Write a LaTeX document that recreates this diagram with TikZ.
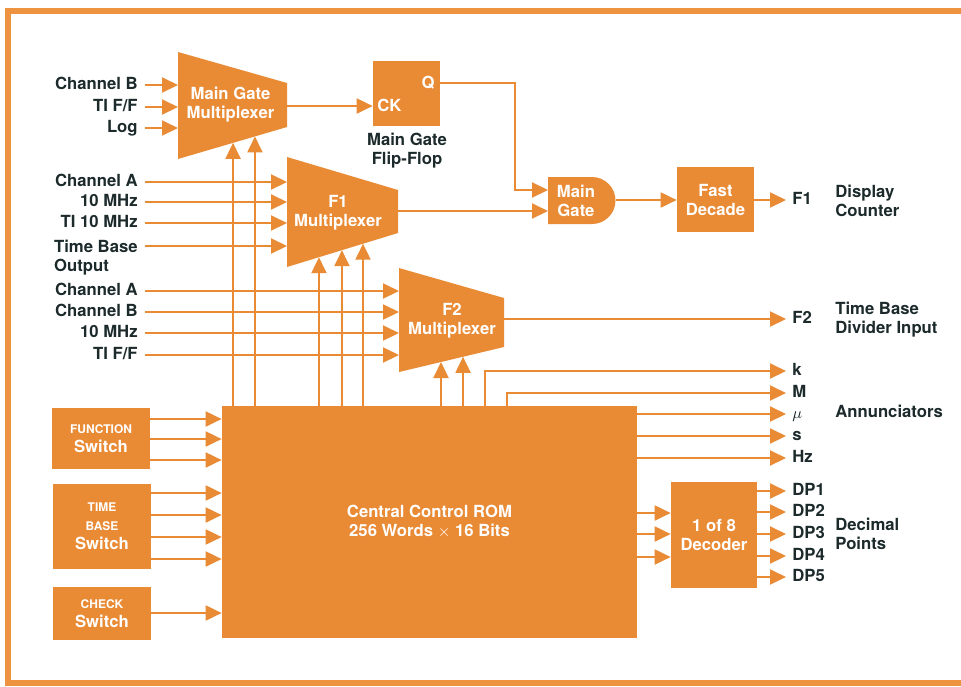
\documentclass[tikz,border=0pt]{standalone}
\usepackage{fontspec}
\setmainfont{TeX Gyre Heros}
\usetikzlibrary{arrows.meta,calc}
\definecolor{hpor}{HTML}{E98A35}
\definecolor{hpframe}{HTML}{EE9340}
\definecolor{hpink}{HTML}{1C2A2B}
\tikzset{
  blk/.style={fill=hpor, text=white, align=center, inner sep=0pt},
  wt/.style={text=white, align=center, inner sep=0pt},
  inl/.style={anchor=mid east, inner xsep=1.4mm, inner ysep=0pt, text=hpink},
  outl/.style={anchor=mid west, inner xsep=1.2mm, inner ysep=0pt, text=hpink},
  note/.style={anchor=west, align=left, inner sep=0pt, text=hpink},
  arr/.style={-{Triangle[length=3.2mm,width=3mm]}, line width=0.4mm, color=hpor},
  frm/.style={draw=hpframe, line width=1.2mm},
}
\newcommand{\caplbl}[1]{{\fontsize{6.8}{8}\selectfont #1}}

\begin{document}
\begin{tikzpicture}[x=0.2mm, y=-0.2mm, font=\fontsize{9.5}{10.8}\selectfont\bfseries]
  \useasboundingbox (0,0) rectangle (961,686);
  \begin{scope}
    \clip (0,0) rectangle (961,686);
    \draw[frm] (990,11) -- (8,11) -- (8,683) -- (990,683);
  \end{scope}

  % multiplexers
  \coordinate (mgtl) at (178,52);  \coordinate (mgtr) at (287,83);
  \coordinate (mgbr) at (287,127); \coordinate (mgbl) at (178,159);
  \coordinate (f1tl) at (287,157); \coordinate (f1tr) at (398,190);
  \coordinate (f1br) at (398,233); \coordinate (f1bl) at (287,267);
  \coordinate (f2tl) at (399,268); \coordinate (f2tr) at (504,298);
  \coordinate (f2br) at (504,347); \coordinate (f2bl) at (399,372);
  \fill[hpor] (mgtl) -- (mgtr) -- (mgbr) -- (mgbl) -- cycle;
  \fill[hpor] (f1tl) -- (f1tr) -- (f1br) -- (f1bl) -- cycle;
  \fill[hpor] (f2tl) -- (f2tr) -- (f2br) -- (f2bl) -- cycle;
  \node[wt] (mgmux) at (230.5,105) {Main Gate\\Multiplexer};
  \node[wt] (f1mux) at (338,213) {F1\\Multiplexer};
  \node[wt] (f2mux) at (452,321) {F2\\Multiplexer};

  % flip-flop and gate
  \node[blk, minimum width=13.4mm, minimum height=13mm] (ff) at (406.5,93.5) {};
  \node[wt, anchor=west] (ck) at (377,105) {CK};
  \node[wt] (qq) at (428,83) {Q};
  \node[note, anchor=north, align=center] (fflab) at (407,133) {Main Gate\\Flip-Flop};
  \fill[hpor] (548,177) -- (592,177) arc[start angle=-90, end angle=90, radius=23.5] -- (548,224) -- cycle;
  \node[wt] (gate) at (576,201) {Main\\Gate};
  \coordinate (gin1) at (548,190); \coordinate (gin2) at (548,211);
  \coordinate (gout) at (615.5,200);
  \node[blk, minimum width=15.4mm, minimum height=13mm] (fd) at (715.5,199.5) {Fast\\Decade};

  % ROM, decoder, switches
  \node[blk, minimum width=83mm, minimum height=46.4mm] (rom) at (429.5,522) {Central Control ROM\\256 Words $\times$ 16 Bits};
  \node[blk, minimum width=17.2mm, minimum height=21.2mm] (dec) at (714,535) {1 of 8\\Decoder};
  \node[blk, minimum width=19.6mm, minimum height=12.2mm] (fsw) at (101,438.5) {\caplbl{FUNCTION}\\Switch};
  \node[blk, minimum width=19.6mm, minimum height=17mm] (tbsw) at (102,526.5) {\caplbl{TIME}\\\caplbl{BASE}\\Switch};
  \node[blk, minimum width=19.6mm, minimum height=10.6mm] (csw) at (102,613.5) {\caplbl{CHECK}\\Switch};

  % inputs
  \foreach \nm/\yy/\txt in {mgi1/85/{Channel B}, mgi2/107/{TI F/F}, mgi3/128/Log} {
    \node[inl] (\nm) at (145,\yy) {\txt};
    \draw[arr] (\nm.mid east) -- (\nm.mid east -| mgtl);
  }
  \foreach \nm/\yy/\txt in {f1i1/182/{Channel A}, f1i2/202/{10 MHz}, f1i3/223/{TI 10 MHz}} {
    \node[inl] (\nm) at (145,\yy) {\txt};
    \draw[arr] (\nm.mid east) -- (\nm.mid east -| f1tl);
  }
  \node[inl, anchor=north east, align=left] (f1i4) at (145,240) {Time Base\\Output};
  \coordinate (f1i4p) at ([yshift=-1.2mm]f1i4.north east);
  \draw[arr] (f1i4p) -- (f1i4p -| f1tl);
  \foreach \nm/\yy/\txt in {f2i1/291/{Channel A}, f2i2/312/{Channel B}, f2i3/333/{10 MHz}, f2i4/355/{TI F/F}} {
    \node[inl] (\nm) at (145,\yy) {\txt};
    \draw[arr] (\nm.mid east) -- (\nm.mid east -| f2tl);
  }

  % control lines from the ROM
  \foreach \i/\t in {1/.505, 2/.706} {
    \coordinate (mgc\i) at ($(mgbl)!\t!(mgbr)$);
    \draw[arr] (mgc\i |- rom.north) -- (mgc\i);
  }
  \foreach \i/\t in {1/.288, 2/.495, 3/.685} {
    \coordinate (f1c\i) at ($(f1bl)!\t!(f1br)$);
    \draw[arr] (f1c\i |- rom.north) -- (f1c\i);
  }
  \foreach \i/\t in {1/.4, 2/.61} {
    \coordinate (f2c\i) at ($(f2bl)!\t!(f2br)$);
    \draw[arr] (f2c\i |- rom.north) -- (f2c\i);
  }
  \foreach \yy in {419,439,460} \draw[arr] (fsw.east |- 0,\yy) -- (rom.west |- 0,\yy);
  \foreach \yy in {493,515,537,559} \draw[arr] (tbsw.east |- 0,\yy) -- (rom.west |- 0,\yy);
  \draw[arr] (csw.east |- 0,613) -- (rom.west |- 0,613);
  \foreach \yy in {513,534,557} \draw[arr] (rom.east |- 0,\yy) -- (dec.west |- 0,\yy);

  % main gate path
  \coordinate (mgout) at (287,106);
  \draw[arr] (mgout) -- (mgout -| ff.west);
  \draw[arr] (qq -| ff.east) -| ($(gin1)+(-33,0)$) -- (gin1);
  \coordinate (f1out) at (398,211);
  \draw[arr] (f1out) -- (gin2);
  \draw[arr] (gout) -- (fd.west |- gout);

  % outputs
  \node[outl] (of1) at (786,200) {F1};
  \draw[arr] (fd.east |- of1.mid west) -- (of1.mid west);
  \coordinate (f2out) at (504,319);
  \node[outl] (of2) at (786,319) {F2};
  \draw[arr] (f2out) -- (of2.mid west);
  \foreach \nm/\yy/\txt in {ok/371/k, om/393/M, omu/414/{\mdseries$\mu$}, os/436/s, ohz/458/Hz}
    \node[outl] (\nm) at (786,\yy) {\txt};
  \draw[arr] ($(rom.north west)+(263,0)$) |- (ok.mid west);
  \draw[arr] ($(rom.north west)+(285,0)$) |- (om.mid west);
  \foreach \nm in {omu,os,ohz} \draw[arr] (\nm.mid west -| rom.east) -- (\nm.mid west);
  \foreach \i/\yy in {1/491, 2/512, 3/534, 4/556, 5/577} {
    \node[outl] (dp\i) at (786,\yy) {DP\i};
    \draw[arr] (dp\i.mid west -| dec.east) -- (dp\i.mid west);
  }

  % notes
  \node[note] (ndisp) at (835,201) {Display\\Counter};
  \node[note] (ntb) at (835,320) {Time Base\\Divider Input};
  \node[note] (nann) at (835,411) {Annunciators};
  \node[note] (ndp) at (835,534) {Decimal\\Points};
\end{tikzpicture}
\end{document}
